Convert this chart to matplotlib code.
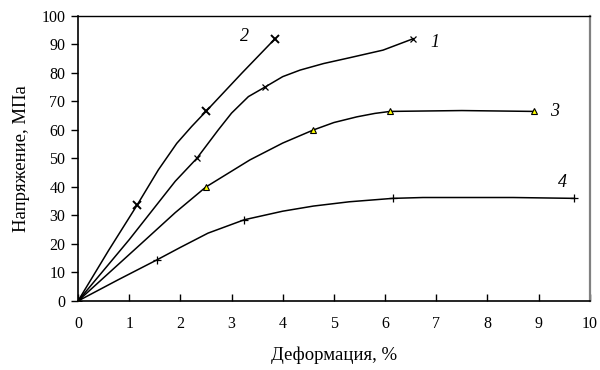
import numpy as np
import matplotlib.pyplot as plt

# curve 1
c1_x = [0, 1.0, 1.9, 2.32, 2.74, 3.0, 3.33, 3.65, 4.0, 4.34, 4.8, 5.3, 5.96, 6.55]
c1_y = [0, 21.5, 42.0, 50.0, 60.0, 65.9, 71.7, 75.0, 78.7, 81.0, 83.3, 85.3, 88.0, 92.0]
c1_mx = [0, 2.32, 3.65, 6.55]
c1_my = [0, 50.0, 75.0, 92.0]

# curve 2
c2_x = [0, 0.6, 1.15, 1.57, 1.93, 2.22, 2.5, 3.2, 3.85]
c2_y = [0, 17.8, 33.5, 46.0, 55.3, 61.2, 66.5, 79.9, 92.0]
c2_mx = [0, 1.15, 2.5, 3.85]
c2_my = [0, 33.5, 66.5, 92.0]

# curve 3
c3_x = [0, 1.24, 1.9, 2.5, 3.36, 4.0, 4.6, 5.0, 5.45, 5.8, 6.1, 7.5, 8.9]
c3_y = [0, 20.2, 31.0, 40.0, 49.5, 55.4, 60.0, 62.6, 64.6, 65.8, 66.5, 66.8, 66.5]
c3_mx = [0, 2.5, 4.6, 6.1, 8.9]
c3_my = [0, 40.0, 60.0, 66.5, 66.5]

# curve 4
c4_x = [0, 0.78, 1.55, 2.0, 2.54, 3.25, 4.0, 4.6, 5.3, 6.15, 6.74, 8.5, 9.7]
c4_y = [0, 7.4, 14.5, 18.8, 23.8, 28.5, 31.5, 33.3, 34.8, 36.0, 36.3, 36.3, 36.0]
c4_mx = [0, 1.55, 3.25, 6.15, 9.7]
c4_my = [0, 14.5, 28.5, 36.0, 36.0]

curve_labels = ["1", "2", "3", "4"]
label_x = [6.97, 3.25, 9.32, 9.47]
label_y = [90.5, 92.7, 66.3, 41.4]

plt.rcParams['font.family'] = ['Liberation Serif', 'DejaVu Serif']

fig = plt.figure(figsize=(6, 3.7), dpi=100)
ax = fig.add_axes([0.13, 0.1865, 0.853, 0.7705])

lw = 1.1
ax.plot(c1_x, c1_y, color='black', lw=lw)
ax.plot(c2_x, c2_y, color='black', lw=lw)
ax.plot(c3_x, c3_y, color='black', lw=lw)
ax.plot(c4_x, c4_y, color='black', lw=lw)

ax.plot(c1_mx, c1_my, ls='none', marker='x', ms=5, mew=0.9, color='black')
ax.plot(c2_mx, c2_my, ls='none', marker='x', ms=5.5, mew=1.4, color='black')
ax.plot(c4_mx, c4_my, ls='none', marker='+', ms=6, mew=0.9, color='black')
ax.plot(c3_mx, c3_my, ls='none', marker='^', ms=5, mew=0.8, mfc='#ffff00', mec='black')

for t, lx, ly in zip(curve_labels, label_x, label_y):
    ax.text(lx, ly, t, fontsize=13, style='italic', ha='center', va='center')

ax.set_xlim(0, 10)
ax.set_ylim(0, 100)
ax.set_xticks(np.arange(0, 11, 1))
ax.set_yticks(np.arange(0, 101, 10))
ax.tick_params(axis='x', direction='in', length=5, pad=11, labelsize=11.5)
ax.tick_params(axis='y', direction='out', length=5, pad=4, labelsize=11.5)
ax.tick_params(width=1)

ax.spines['left'].set_linewidth(1.2)
ax.spines['bottom'].set_linewidth(1.2)
ax.spines['top'].set_linewidth(1.0)
ax.spines['right'].set_color('#808080')
ax.spines['right'].set_linewidth(1.6)

ax.set_xlabel("Деформация, %", fontsize=13.5, labelpad=10)
ax.set_ylabel("Напряжение, МПа", fontsize=13.5, labelpad=8)

fig.savefig("out.png", dpi=100)
